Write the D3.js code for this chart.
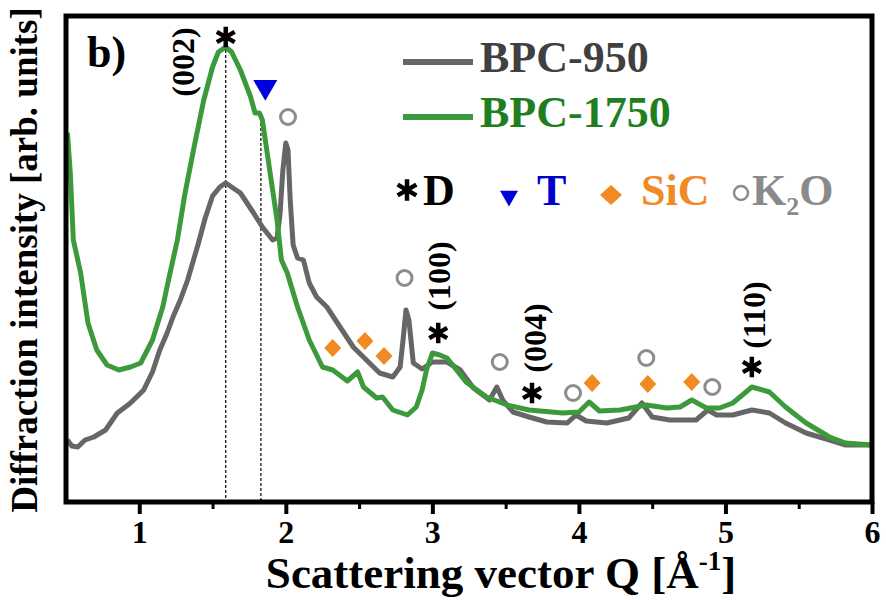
<!DOCTYPE html>
<html><head><meta charset="utf-8">
<script src="https://cdn.jsdelivr.net/npm/d3@7"></script>
<style>
body{margin:0;background:#fff}
svg{display:block}
text{font-family:"Liberation Serif","Times New Roman",serif;font-weight:bold}
</style>
</head><body>
<svg id="c" width="886" height="600"></svg>
<script>
// ---- data (Q in 1/Å, intensity in arb. units) ----
const seriesNames = ["BPC-950", "BPC-1750"];
const bpc950Q = [0.51,0.54,0.58,0.63,0.69,0.77,0.85,0.94,1.03,1.09,1.14,1.19,1.23,1.28,1.33,1.40,1.45,1.50,1.55,1.59,1.64,1.69,1.78,1.84,1.91,1.94,1.96,1.98,2.00,2.015,2.03,2.05,2.08,2.12,2.16,2.21,2.28,2.37,2.46,2.55,2.64,2.73,2.78,2.80,2.82,2.84,2.87,2.93,3.00,3.10,3.19,3.28,3.39,3.44,3.48,3.55,3.66,3.78,3.92,3.98,4.05,4.19,4.34,4.43,4.50,4.62,4.80,4.88,4.94,5.05,5.18,5.30,5.41,5.55,5.71,5.82,6.00];
const bpc950I = [62,56,55,62,65,72,89,99,112,130,152,169,185,202,222,257,284,306,315,319,314,309,289,275,262,264,287,332,359,352,302,257,244,242,219,205,195,175,155,142,129,125,135,162,192,182,139,133,140,140,132,114,102,115,102,90,85,80,79,87,81,79,84,99,85,82,82,92,87,87,92,89,79,69,62,57,57];
const bpc1750Q = [0.51,0.53,0.55,0.60,0.65,0.71,0.78,0.86,0.94,1.01,1.09,1.16,1.21,1.26,1.31,1.37,1.44,1.50,1.54,1.59,1.63,1.69,1.76,1.79,1.82,1.84,1.89,1.94,1.97,2.01,2.08,2.16,2.25,2.32,2.42,2.49,2.53,2.62,2.66,2.73,2.83,2.89,2.93,2.96,3.00,3.05,3.10,3.23,3.37,3.51,3.66,3.89,4.00,4.07,4.14,4.28,4.46,4.60,4.69,4.77,4.87,4.96,5.05,5.14,5.18,5.30,5.41,5.55,5.71,5.82,6.00];
const bpc1750I = [369,327,262,229,179,152,137,132,135,139,162,195,229,262,307,352,402,435,450,455,450,432,405,389,389,382,332,282,242,229,195,162,135,132,121,130,115,104,105,92,87,95,112,132,149,147,144,120,105,97,92,89,90,100,91,92,97,94,95,102,94,94,99,110,115,110,95,79,65,59,57];

const xTickValues = [1,2,3,4,5,6];
const xMinorValues = [1.5,2.5,3.5,4.5,5.5];

// peak markers
const dQ = [1.59,3.04,3.68,5.18];       const dI = [465,169,109,135];
const tQ = [1.86];                      const tI = [415];
const sicQ = [2.32,2.54,2.67,4.09,4.47,4.77]; const sicI = [154,161,146,119,118,120];
const k2oQ = [2.015,2.81,3.46,3.96,4.46,4.91]; const k2oI = [385,224,140,109,144,115];
const millerLabels = ["(002)","(100)","(004)","(110)"];
const millerQ = [1.30,3.05,3.70,5.20]; const millerI = [440,226,164,187];
const guideQ = [1.59,1.83]; const guideTop = [452,389];

// ---- layout ----
const svg = d3.select("#c");
const L = 66, R = 872, T = 16, B = 502;
const x = d3.scaleLinear().domain([0.5,6]).range([L,R]);
const y = d3.scaleLinear().domain([0,486]).range([B,T]);

const grayC = "#666666", greenC = "#3c9a3c";

// guides
svg.append("g").selectAll("line").data(guideQ).join("line")
  .attr("x1", d=>x(d)).attr("x2", d=>x(d))
  .attr("y1", (d,i)=>y(guideTop[i])).attr("y2", y(0))
  .attr("stroke","#000").attr("stroke-width",1.2).attr("stroke-dasharray","3,2");

// lines
const line = d3.line().x(d=>x(d[0])).y(d=>y(d[1]));
const d950 = bpc950Q.map((q,i)=>[q,bpc950I[i]]);
const d1750 = bpc1750Q.map((q,i)=>[q,bpc1750I[i]]);
svg.append("clipPath").attr("id","pc").append("rect").attr("x",L).attr("y",T).attr("width",R-L).attr("height",B-T);
const lg = svg.append("g").attr("clip-path","url(#pc)");
lg.append("path").datum(d950).attr("d",line).attr("fill","none").attr("stroke",grayC).attr("stroke-width",5).attr("stroke-linejoin","round");
lg.append("path").datum(d1750).attr("d",line).attr("fill","none").attr("stroke",greenC).attr("stroke-width",5).attr("stroke-linejoin","round");

// markers
const ast = d3.symbol().type(d3.symbolAsterisk).size(300);
svg.append("g").selectAll("path").data(dQ).join("path")
  .attr("transform",(d,i)=>`translate(${x(d)},${y(dI[i])})`).attr("d",ast)
  .attr("fill","none").attr("stroke","#000").attr("stroke-width",4.5);
const tri = d3.symbol().type(d3.symbolTriangle).size(250);
svg.append("g").selectAll("path").data(tQ).join("path")
  .attr("transform",(d,i)=>`translate(${x(d)},${y(tI[i])}) rotate(180)`).attr("d",tri).attr("fill","#0000dd");
const dia = "M0,-9L8.5,0L0,9L-8.5,0Z";
svg.append("g").selectAll("path").data(sicQ).join("path")
  .attr("transform",(d,i)=>`translate(${x(d)},${y(sicI[i])})`).attr("d",dia).attr("fill","#f28a22");
svg.append("g").selectAll("circle").data(k2oQ).join("circle")
  .attr("cx",d=>x(d)).attr("cy",(d,i)=>y(k2oI[i])).attr("r",7.5)
  .attr("fill","none").attr("stroke","#8c8c8c").attr("stroke-width",3);
svg.append("g").selectAll("text").data(millerLabels).join("text")
  .attr("transform",(d,i)=>`translate(${x(millerQ[i])},${y(millerI[i])}) rotate(-90)`)
  .attr("text-anchor","middle").attr("dy","0.33em").attr("font-size",32).attr("fill","#000").text(d=>d);

// frame
svg.append("rect").attr("x",L).attr("y",T).attr("width",R-L).attr("height",B-T)
  .attr("fill","none").attr("stroke","#000").attr("stroke-width",5);

// axes
const ax = svg.append("g").attr("transform",`translate(0,${B})`)
  .call(d3.axisBottom(x).tickValues(xTickValues).tickFormat(d3.format("d")).tickSize(12).tickPadding(6));
ax.select(".domain").remove();
ax.selectAll(".tick line").attr("stroke","#000").attr("stroke-width",4);
ax.selectAll(".tick text").attr("font-size",32).attr("font-family",null).attr("fill","#000");
const axm = svg.append("g").attr("transform",`translate(0,${B})`)
  .call(d3.axisBottom(x).tickValues(xMinorValues).tickFormat("").tickSize(7));
axm.select(".domain").remove();
axm.selectAll(".tick line").attr("stroke","#000").attr("stroke-width",3);

// axis titles
const xt = svg.append("text").attr("x",501).attr("y",588).attr("text-anchor","middle").attr("font-size",45).attr("fill","#000");
xt.append("tspan").text("Scattering vector Q [Å");
xt.append("tspan").attr("font-size",27).attr("dy",-18).text("-1");
xt.append("tspan").attr("dy",18).text("]");
svg.append("text").attr("transform","translate(37,260) rotate(-90)").attr("text-anchor","middle")
  .attr("font-size",37).attr("fill","#000").text("Diffraction intensity [arb. units]");

// panel label
svg.append("text").attr("x",87).attr("y",67).attr("font-size",44).attr("fill","#000").text("b)");

// legend
const legColors = [grayC, greenC], legText = ["#404040","#1f7f1f"];
seriesNames.forEach((n,i)=>{
  const yy = 62 + i*55;
  svg.append("line").attr("x1",403).attr("x2",473).attr("y1",yy).attr("y2",yy).attr("stroke",legColors[i]).attr("stroke-width",6);
  svg.append("text").attr("x",480).attr("y",yy+10).attr("font-size",44).attr("fill",legText[i]).text(n);
});
svg.append("path").attr("transform","translate(407,190)").attr("d",d3.symbol().type(d3.symbolAsterisk).size(330))
  .attr("fill","none").attr("stroke","#000").attr("stroke-width",4.5);
svg.append("text").attr("x",423).attr("y",205).attr("font-size",44).attr("fill","#000").text("D");
svg.append("path").attr("transform","translate(509,196) rotate(180)").attr("d",d3.symbol().type(d3.symbolTriangle).size(140)).attr("fill","#0000dd");
svg.append("text").attr("x",537).attr("y",205).attr("font-size",44).attr("fill","#0000cc").text("T");
svg.append("path").attr("transform","translate(611,195)").attr("d","M0,-10L11,0L0,10L-11,0Z").attr("fill","#f28a22");
svg.append("text").attr("x",641).attr("y",205).attr("font-size",44).attr("fill","#f08a24").text("SiC");
svg.append("circle").attr("cx",741).attr("cy",193).attr("r",7).attr("fill","none").attr("stroke","#8c8c8c").attr("stroke-width",2.5);
const kt = svg.append("text").attr("x",752).attr("y",205).attr("font-size",44).attr("fill","#8a8a8a");
kt.append("tspan").text("K");
kt.append("tspan").attr("font-size",26).attr("dy",10).text("2");
kt.append("tspan").attr("dy",-10).text("O");
</script>
</body></html>
